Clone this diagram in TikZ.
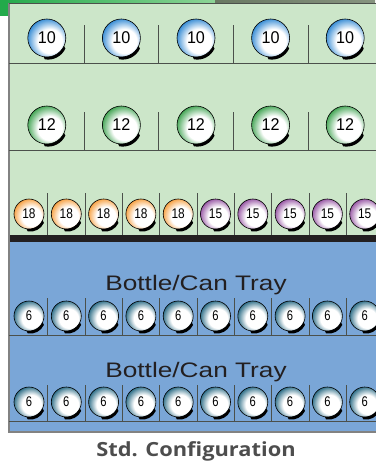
\documentclass[tikz,border=0pt]{standalone}
\usepackage{fontspec}
\setmainfont{Liberation Sans}
\newfontfamily\captionfont{Open Sans}
\usetikzlibrary{calc}

\definecolor{traygreen}{RGB}{204,230,201}
\definecolor{trayblue}{RGB}{122,166,215}
\definecolor{bandblack}{RGB}{35,31,32}
\definecolor{rulegray}{RGB}{75,80,75}
\definecolor{framegray}{RGB}{130,130,130}
\definecolor{topgreen}{RGB}{35,170,75}
\definecolor{toplight}{RGB}{140,212,150}
\definecolor{topgrayA}{RGB}{105,120,98}
\definecolor{topgrayB}{RGB}{135,148,128}
\definecolor{cupblue}{RGB}{20,120,205}
\definecolor{cupgreen}{RGB}{35,150,55}
\definecolor{cuporange}{RGB}{245,145,35}
\definecolor{cuppurple}{RGB}{135,60,150}
\definecolor{cupteal}{RGB}{10,85,115}
\definecolor{capgray}{RGB}{77,77,77}

% cup shadings: colour at the upper left rim, white towards the lower right
\newcommand\cupshade[2]{%
  \pgfdeclareradialshading{#1}{\pgfpoint{6bp}{-6bp}}{%
    color(0bp)=(white); color(16bp)=(white); color(31bp)=(#2); color(50bp)=(#2)}}
\cupshade{shadeblue}{cupblue}
\cupshade{shadegreen}{cupgreen}
\cupshade{shadeorange}{cuporange}
\cupshade{shadepurple}{cuppurple}
\cupshade{shadeteal}{cupteal}

% \drawcup{name}{x}{y}{radius}{shading}{label}{size}{xstretch}
\newcommand\drawcup[8]{%
  \shade[shading=#5, draw=black, line width=0.6pt] (#2,#3) circle (#4);
  \fill ($(#2,#3)+(25:#4)$) arc (25:100:#4)
     -- ($(#2,#3)+(1.3,2.6)+(100:#4)$) arc (100:25:#4) -- cycle;
  \node[font=\fontsize{#7}{#7}\selectfont, inner sep=0pt] (#1) at (#2,#3) {\scalebox{#8}[1]{#6}};
}

\begin{document}
\begin{tikzpicture}[
    x=1pt, y=-1pt,
    divider/.style={draw=rulegray, line width=0.8pt},
    trayrule/.style={draw=rulegray, line width=0.9pt},
    traylabel/.style={font=\fontsize{21}{24}\selectfont, text=bandblack, inner sep=0pt, anchor=base}
]
\useasboundingbox (0,0) rectangle (375,466);

% cropped neighbour at the top
\shade[left color=topgreen, right color=toplight] (0,0) rectangle (215,3);
\shade[left color=topgrayA, right color=topgrayB] (215,0) rectangle (375,3);
\fill[topgreen] (0,0) rectangle (8,16);

% tray body
\fill[traygreen] (9,3) rectangle (384,235);
\fill[bandblack] (9,235) rectangle (384,242);
\fill[trayblue] (9,242) rectangle (384,432);
\draw[framegray, line width=1.5pt] (9,3) -- (9,432) -- (384,432);
\draw[rulegray, line width=0.8pt] (9,3) -- (384,3);

% row of 10s
\draw[trayrule] (9,63) -- (384,63);
\foreach \k in {1,...,4}
  \draw[divider] (9.5+74.6*\k,25) -- (9.5+74.6*\k,63);
\foreach \i in {0,...,4}
  \drawcup{ten\i}{46.8+74.6*\i}{38}{19}{shadeblue}{10}{17}{0.95};

% row of 12s
\draw[trayrule] (9,150) -- (384,150);
\foreach \k in {1,...,4}
  \draw[divider] (9.5+74.6*\k,112) -- (9.5+74.6*\k,150);
\foreach \i in {0,...,4}
  \drawcup{twelve\i}{46.8+74.6*\i}{125}{19}{shadegreen}{12}{17}{0.95};

% row of 18s and 15s
\foreach \k in {1,...,9}
  \draw[divider] (10.5+37.3*\k,193) -- (10.5+37.3*\k,235);
\foreach \i in {0,...,4}
  \drawcup{eighteen\i}{29+37.3*\i}{214}{15}{shadeorange}{18}{14}{0.85};
\foreach \i in {5,...,9}
  \drawcup{fifteen\i}{29+37.3*\i}{214}{15}{shadepurple}{15}{14}{0.85};

% upper bottle/can tray
\node[traylabel] (trayA) at (196,290.5) {\scalebox{1.25}[1]{Bottle/Can Tray}};
\draw[trayrule] (9,335) -- (384,335);
\foreach \k in {1,...,9}
  \draw[divider] (10.5+37.3*\k,298) -- (10.5+37.3*\k,335);
\foreach \i in {0,...,9}
  \drawcup{sixA\i}{29+37.3*\i}{316}{15}{shadeteal}{6}{14}{0.8};

% lower bottle/can tray
\node[traylabel] (trayB) at (196,377) {\scalebox{1.25}[1]{Bottle/Can Tray}};
\draw[trayrule] (9,421) -- (384,421);
\foreach \k in {1,...,9}
  \draw[divider] (10.5+37.3*\k,385) -- (10.5+37.3*\k,421);
\foreach \i in {0,...,9}
  \drawcup{sixB\i}{29+37.3*\i}{402}{15}{shadeteal}{6}{14}{0.8};

% caption
\node[font=\captionfont\bfseries\fontsize{19.5}{22}\selectfont, text=capgray, inner sep=0pt, anchor=base] (caption) at (196,456) {\scalebox{1.12}[1]{Std. Configuration}};
\end{tikzpicture}
\end{document}
